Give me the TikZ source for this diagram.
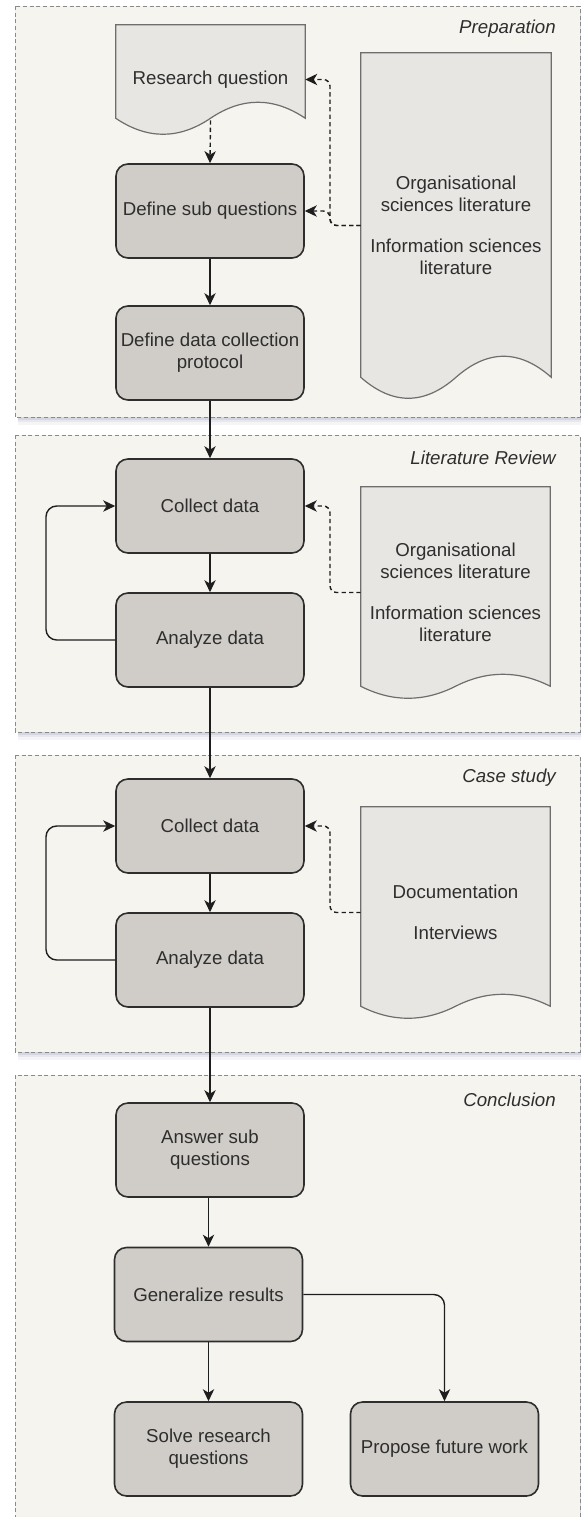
\documentclass[tikz,border=0pt]{standalone}
\usepackage{fontspec}
\setmainfont{Liberation Sans}
\usetikzlibrary{arrows.meta,calc}

\definecolor{lanefill}{HTML}{F6F4EF}
\definecolor{laneline}{HTML}{8A8A8A}
\definecolor{boxfill}{HTML}{D0CDC8}
\definecolor{boxline}{HTML}{2E2E2E}
\definecolor{docfill}{HTML}{E8E6E2}
\definecolor{docline}{HTML}{6E6E6E}
\definecolor{inkc}{HTML}{2E2E2E}
\definecolor{wirec}{HTML}{1E1E1E}
\definecolor{shadowc}{HTML}{9A9FB8}

\pgfdeclarelayer{lanes}
\pgfdeclarelayer{docs}
\pgfsetlayers{lanes,docs,main}

\newcommand\bodyfont{\fontsize{14}{16.5}\selectfont}

\tikzset{
  lane/.style={draw=laneline, line width=0.75pt, dash pattern=on 3pt off 2pt, fill=lanefill},
  laneshadow/.style={fill=shadowc, draw=none},
  lanelabel/.style={anchor=east, font=\bodyfont\itshape, text=inkc, inner sep=0pt},
  stepbox/.style={rectangle, rounded corners=9pt, draw=boxline, line width=1.2pt,
    fill=boxfill, minimum width=141pt, minimum height=70.5pt, align=center,
    text=inkc, inner sep=0pt, font=\bodyfont},
  docbox/.style={rectangle, draw=none, align=center, text=inkc, inner sep=0pt, font=\bodyfont},
  docedge/.style={draw=docline, line width=0.9pt, fill=docfill},
  flow/.style={draw=wirec, line width=1.05pt, -{Stealth[length=9pt,width=8.5pt,inset=2.6pt]}},
  ref/.style={flow, dash pattern=on 3.2pt off 2.4pt},
}

% Document outline with a wavy bottom; #1 = node, #2 = wave depth (px)
\newcommand\docoutline[2]{%
  \path[docedge] (#1.north west) -- (#1.north east) -- ($(#1.south east)+(0,-#2)$)
    .. controls ($(#1.south east)!0.1667!(#1.south west)+(0,-7*#2/3)$)
       and ($(#1.south)!0.3333!(#1.south east)+(0,-7*#2/3)$) .. ($(#1.south)+(0,-#2)$)
    .. controls ($(#1.south)!0.3333!(#1.south west)+(0,#2/3)$)
       and ($(#1.south west)!0.1667!(#1.south east)+(0,#2/3)$) .. ($(#1.south west)+(0,-#2)$)
    -- cycle;}

% Phase container with a soft drop shadow
\newcommand\phase[4]{%
  \begin{pgfonlayer}{lanes}
    \fill[laneshadow, opacity=0.10] (#1+3,#2+3) rectangle (#3+3,#4+8);
    \fill[laneshadow, opacity=0.15] (#1+3,#2+3) rectangle (#3+3,#4+5);
    \fill[laneshadow, opacity=0.25] (#1+3,#2+3) rectangle (#3+3,#4+3);
    \path[lane] (#1,#2) rectangle (#3,#4);
  \end{pgfonlayer}}

\begin{document}
\begin{tikzpicture}[x=0.75pt, y=-0.75pt]
\useasboundingbox (0,0) rectangle (581,1517);

% phase containers
\phase{15}{6}{580}{417}
\phase{15}{435}{580}{732}
\phase{15}{755}{580}{1052}
\phase{15}{1075}{580}{1540}

\node[lanelabel] (lblprep) at (556,29) {Preparation};
\node[lanelabel] (lbllit)  at (556,458) {Literature Review};
\node[lanelabel] (lblcase) at (556,778) {Case study};
\node[lanelabel] (lblconc) at (556,1100) {Conclusion};

\coordinate (bus) at (330,0);
\coordinate (loopx) at (46,0);

% Preparation
\node[docbox, minimum width=141.75pt, minimum height=81.75pt] (rq) at (210.5,79.5) {Research question};
\node[docbox, minimum width=142.5pt, minimum height=258.75pt] (pd) at (456,225.5)
  {Organisational\\sciences literature\\[14pt]Information sciences\\literature};
\node[stepbox] (dsq) at (210,211) {Define sub questions};
\node[stepbox] (ddc) at (210,353) {Define data collection\\protocol};

% Literature review
\node[stepbox] (lc) at (210,506) {Collect data};
\node[stepbox] (la) at (210,640) {Analyze data};
\node[docbox, minimum width=141.75pt, minimum height=158.25pt] (ld) at (455.5,592.5)
  {Organisational\\sciences literature\\[14pt]Information sciences\\literature};

% Case study
\node[stepbox] (cc) at (210,826) {Collect data};
\node[stepbox] (ca) at (210,960) {Analyze data};
\node[docbox, minimum width=141.75pt, minimum height=158.25pt] (cd) at (455.5,912.5)
  {Documentation\\[14.25pt]Interviews};

% Conclusion
\node[stepbox] (ans) at (210,1150) {Answer sub\\questions};
\node[stepbox] (gen) at (208.5,1294.5) {Generalize results};
\node[stepbox] (sol) at (208.5,1449) {Solve research\\questions};
\node[stepbox] (fut) at (444.5,1449) {Propose future work};

\begin{pgfonlayer}{docs}
  \docoutline{rq}{16}
  \docoutline{pd}{21}
  \docoutline{ld}{12}
  \docoutline{cd}{12}
\end{pgfonlayer}

% connectors
\draw[ref] ($(rq.south)+(0,-14)$) -- (dsq.north);
\draw[ref, rounded corners=5pt] (pd.west) -- (pd.west -| bus) -- (rq.east -| bus) -- (rq.east);
\draw[ref, rounded corners=5pt] (pd.west) -- (pd.west -| bus) -- (dsq.east -| bus) -- (dsq.east);
\draw[flow] (dsq) -- (ddc);
\draw[flow] (ddc) -- (lc);

\draw[flow] (lc) -- (la);
\draw[flow, rounded corners=8pt] (la.west) -- (la.west -| loopx) -- (lc.west -| loopx) -- (lc.west);
\draw[ref, rounded corners=5pt] (ld.west) -- (ld.west -| bus) -- (lc.east -| bus) -- (lc.east);
\draw[flow] (la) -- (cc);

\draw[flow] (cc) -- (ca);
\draw[flow, rounded corners=8pt] (ca.west) -- (ca.west -| loopx) -- (cc.west -| loopx) -- (cc.west);
\draw[ref, rounded corners=5pt] (cd.west) -- (cd.west -| bus) -- (cc.east -| bus) -- (cc.east);
\draw[flow] (ca) -- (ans);

\draw[flow] (ans.south -| gen.north) -- (gen.north);
\draw[flow] (gen) -- (sol);
\draw[flow, rounded corners=8pt] (gen.east) -| (fut.north);
\end{tikzpicture}
\end{document}
